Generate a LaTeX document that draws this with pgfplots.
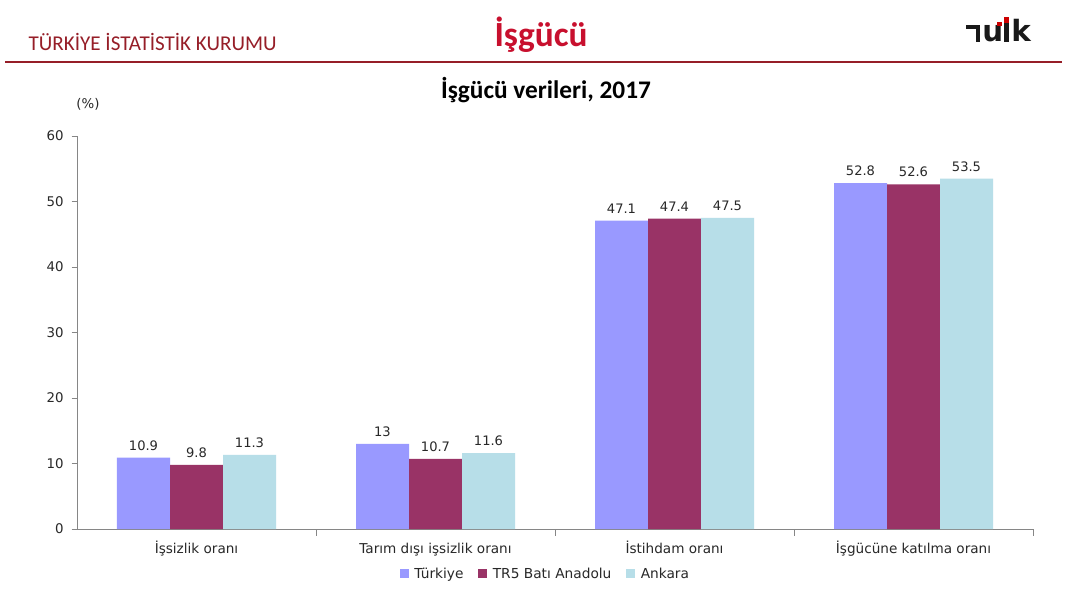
\documentclass[border=0pt]{standalone}
\usepackage{fontspec}
\setmainfont{DejaVu Sans}
\newfontfamily\carlito{Carlito}
\usepackage{pgfplots}
\pgfplotsset{compat=1.18}
\definecolor{cTR}{RGB}{153,153,255}
\definecolor{cTRB}{RGB}{153,51,102}
\definecolor{cANK}{RGB}{183,222,232}
\definecolor{hdr}{RGB}{150,30,40}
\definecolor{hred}{RGB}{200,16,46}
\definecolor{axgray}{RGB}{134,134,134}
\definecolor{txt}{RGB}{40,40,40}
\begin{document}
\begin{tikzpicture}
\begin{scope}[x=0.75pt,y=-0.75pt,yshift=442.5pt]
\fill[white] (0,0) rectangle (1067,590);
\node[anchor=west,text=hdr,font=\carlito\fontsize{15.8}{18}\selectfont] at (24,42) {TÜRKİYE İSTATİSTİK KURUMU};
\node[text=hred,font=\carlito\bfseries\fontsize{26.5}{28}\selectfont] at (541,35) {İşgücü};
% logo
\fill[black!90] (966,25) rectangle (980,29.5);
\fill[black!90] (975.5,25) rectangle (980,42);
\node[anchor=base west,inner sep=0pt,text=black!90,font=\bfseries\fontsize{22}{24}\selectfont] at (982,42) {u};
\fill[black!90] (1004,17) rectangle (1009,42);
\fill[red!80!black] (1004,17) rectangle (1009,23);
\fill[red!80!black] (996.5,22) rectangle (1001.5,26);
\node[anchor=base west,inner sep=0pt,text=black!90,font=\bfseries\fontsize{22}{24}\selectfont] at (1011,42) {k};
\draw[hdr,line width=1.5pt] (5,62) -- (1062,62);
\node[text=black,font=\carlito\bfseries\fontsize{19}{21}\selectfont] at (546,90) {İşgücü verileri, 2017};
\node[text=txt,font=\fontsize{10}{11}\selectfont] at (88,104) {(\%)};
\end{scope}
\begin{axis}[
  at={(57.75pt,45.75pt)}, anchor=south west,
  scale only axis, width=717pt, height=294.75pt,
  xmin=-0.5, xmax=3.5, ymin=0, ymax=60,
  ytick={0,10,20,30,40,50,60},
  xtick={0,1,2,3},
  xticklabels={İşsizlik oranı,Tarım dışı işsizlik oranı,İstihdam oranı,İşgücüne katılma oranı},
  minor xtick={0.5,1.5,2.5,3.5},
  major x tick style={draw=none},
  minor x tick style={draw=axgray},
  minor tick length=5pt,
  major tick length=4pt,
  tick align=outside,
  y tick style={draw=axgray},
  axis lines*=left,
  axis line style={draw=axgray},
  yticklabel style={text=txt,font=\fontsize{10}{11}\selectfont,xshift=-2.5pt},
  xticklabel style={text=txt,font=\fontsize{10.2}{11}\selectfont,text height=1.6ex,text depth=0.4ex,yshift=-2pt},
  /pgf/number format/assume math mode=true,
  ybar=0pt, bar width=39.75pt,
  nodes near coords,
  nodes near coords style={text=txt,font=\fontsize{9.8}{11}\selectfont,yshift=2pt},
  legend columns=-1,
  legend style={draw=none,at={(rel axis cs:0.5,0)},anchor=center,yshift=-33.75pt,xshift=-7pt,font=\fontsize{10.3}{11}\selectfont,text=txt,
    /tikz/every odd column/.append style={column sep=2pt},
    /tikz/every even column/.append style={column sep=9pt}},
  legend image code/.code={\fill[#1,draw=none] (0pt,-3pt) rectangle (7pt,4pt);},
]
\addplot[fill=cTR,draw=none] coordinates {(0,10.9) (1,13) (2,47.1) (3,52.8)};
\addplot[fill=cTRB,draw=none] coordinates {(0,9.8) (1,10.7) (2,47.4) (3,52.6)};
\addplot[fill=cANK,draw=none] coordinates {(0,11.3) (1,11.6) (2,47.5) (3,53.5)};
\legend{Türkiye,TR5 Batı Anadolu,Ankara}
\end{axis}
\end{tikzpicture}
\end{document}
